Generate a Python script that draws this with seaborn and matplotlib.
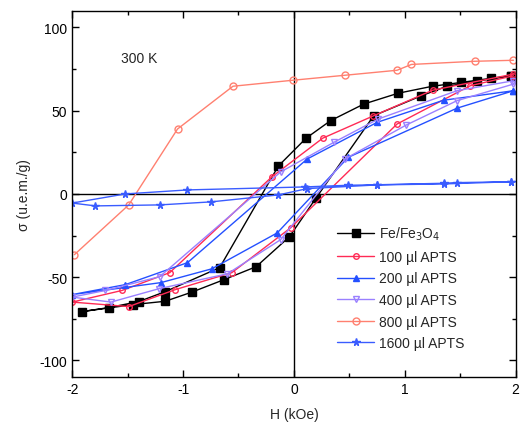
import matplotlib
matplotlib.use("Agg")
import matplotlib.pyplot as plt
import seaborn as sns
import pandas as pd
from matplotlib.ticker import MultipleLocator

# ---- data ----
fe_H = [1.96, 1.78, 1.51, 1.25, 0.94, 0.63, 0.33, 0.11, -0.14, -0.67, -1.16, -1.40, -1.67, -1.91,
        -1.45, -1.16, -0.92, -0.63, -0.34, -0.04, 0.20, 0.72, 1.15, 1.38, 1.65, 1.96]
fe_S = [71, 69.5, 67, 64.7, 60.5, 54, 44, 33.5, 16.8, -44.3, -58.7, -64.7, -68.3, -70.7,
        -66.5, -64.5, -59, -51.5, -43.7, -25.7, -2.4, 47, 59, 64.7, 67.7, 71]

a100_H = [1.98, 1.25, 0.71, 0.26, -0.20, -1.12, -1.55, -2.00,
          -1.49, -1.07, -0.56, -0.03, 0.93, 1.59, 1.98]
a100_S = [72, 62.3, 46.7, 33.5, 10.2, -47.3, -58, -65,
          -67.7, -57.5, -47.3, -20.4, 42, 65, 71]

a200_H = [1.98, 1.35, 0.75, 0.12, -0.96, -1.52, -2.00,
          -1.20, -0.74, -0.15, 0.49, 1.47, 1.98]
a200_S = [62, 56.3, 43, 21, -41.3, -54.5, -60.5,
          -53.3, -45, -23.4, 22, 51.5, 62]

a400_H = [1.98, 1.47, 0.76, 0.36, -0.12, -1.21, -1.70, -2.00,
          -1.65, -1.22, -0.60, -0.12, 0.46, 1.01, 1.47, 1.98]
a400_S = [68, 62, 45, 31, 13.2, -49.7, -58, -62,
          -65, -57, -48, -27.5, 21, 41.3, 56, 66]

a800_H = [-1.98, -1.49, -1.05, -0.55, -0.01, 0.46, 0.93, 1.06, 1.63, 1.98]
a800_S = [-36.5, -6.6, 39, 64.7, 68.3, 71.3, 74.3, 77.8, 79.7, 80.3]

a1600_H = [1.96, 1.47, 1.35, 0.75, 0.49, 0.10, -0.96, -1.52, -2.00,
           -1.79, -1.21, -0.75, -0.14, 0.12, 0.75, 1.35, 1.96]
a1600_S = [7.3, 6.8, 6.4, 5.5, 5.2, 4.2, 2.4, 0.0, -5.5,
           -7.2, -6.6, -4.8, -0.6, 3.2, 5.4, 6.0, 7.3]

labels = ["Fe/Fe$_3$O$_4$", "100 µl APTS", "200 µl APTS", "400 µl APTS",
          "800 µl APTS", "1600 µl APTS"]
x_ticks = [-2, -1, 0, 1, 2]
y_ticks = [-100, -50, 0, 50, 100]

# ---- styling ----
sns.set_style("ticks")
plt.rcParams["font.family"] = ["Liberation Sans", "DejaVu Sans"]
plt.rcParams["axes.unicode_minus"] = False

fig = plt.figure(figsize=(5.23, 4.39), dpi=100)
ax = fig.add_axes([0.138, 0.139, 0.848, 0.834])

series = [
    (fe_H, fe_S, labels[0], "black", "s", 6.0, "black", 1.0),
    (a100_H, a100_S, labels[1], "#ff2a55", "o", 4.0, "none", 1.0),
    (a200_H, a200_S, labels[2], "#2450ff", "^", 5.0, "#2450ff", 1.0),
    (a400_H, a400_S, labels[3], "#9a80ff", "v", 4.5, "none", 1.0),
    (a800_H, a800_S, labels[4], "#ff8070", "o", 5.0, "none", 1.0),
    (a1600_H, a1600_S, labels[5], "#3a5cff", "*", 5.5, "#3a5cff", 1.0),
]

for hx, sy, lab, col, mk, ms, mfc, lw in series:
    df = pd.DataFrame({"H": hx, "sigma": sy})
    sns.lineplot(data=df, x="H", y="sigma", sort=False, estimator=None, ax=ax,
                 color=col, marker=mk, markersize=ms, markerfacecolor=mfc,
                 markeredgecolor=col, markeredgewidth=1.0, linewidth=lw, label=lab)

ax.axhline(0, color="black", lw=1.0, zorder=0)
ax.axvline(0, color="black", lw=1.0, zorder=0)

ax.set_xlim(-2, 2)
ax.set_ylim(-110, 110)
ax.set_xticks(x_ticks)
ax.set_xticklabels([str(v) for v in x_ticks])
ax.set_yticks(y_ticks)
ax.set_yticklabels([str(v) for v in y_ticks])
ax.xaxis.set_minor_locator(MultipleLocator(0.5))
ax.yaxis.set_minor_locator(MultipleLocator(25))
ax.tick_params(which="both", direction="in", top=True, right=True, labelsize=10,
               colors="black")
ax.tick_params(which="major", length=5, width=1)
ax.tick_params(which="minor", length=3, width=1)
for sp in ax.spines.values():
    sp.set_visible(True)
    sp.set_linewidth(1.0)
    sp.set_color("black")

ax.set_xlabel("H (kOe)", fontsize=10, labelpad=8)
ax.set_ylabel("σ (u.e.m./g)", fontsize=10, labelpad=6)
ax.text(-1.56, 81.5, "300 K", fontsize=10, va="center", ha="left")

leg = ax.legend(loc="upper left", bbox_to_anchor=(0.57, 0.45), frameon=False,
                fontsize=10, handlelength=2.6, labelspacing=0.55, handletextpad=0.4)

fig.savefig("out.png", dpi=100)
